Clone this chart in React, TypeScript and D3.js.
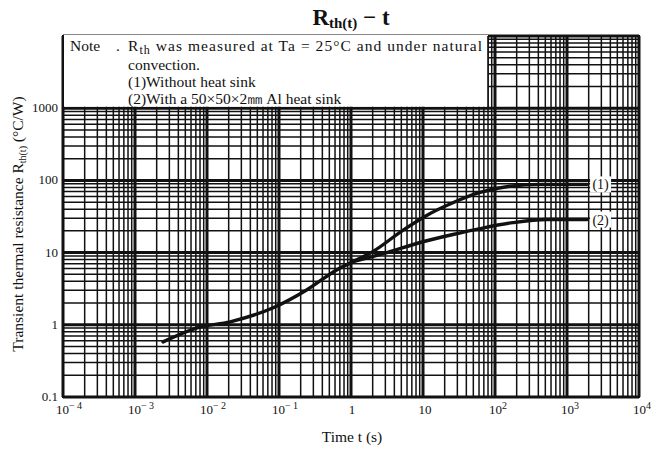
import React from "react";
import * as d3 from "d3";

// readings (t in s, R in °C/W)
const T_COMMON = [0.00245, 0.0073, 0.021, 0.083, 0.245, 0.64, 1.07];
const R_COMMON = [0.58, 0.91, 1.1, 1.72, 3.06, 5.8, 7.5];
const T_CURVE1 = [2.0, 5.3, 11.4, 26, 62, 160, 420, 1900];
const R_CURVE1 = [10.3, 20.5, 33, 49, 68, 83, 88, 88];
const T_CURVE2 = [3.16, 9.1, 26, 62, 178, 525, 1900];
const R_CURVE2 = [10, 13.8, 17.8, 21.5, 26, 28.7, 28.7];

const X_EXPONENTS = [-4, -3, -2, -1, 0, 1, 2, 3, 4];
const Y_TICKS = [0.1, 1, 10, 100, 1000];
const Y_TICK_LABELS = ["0.1", "1", "10", "100", "1000"];

const NOTE_LINES = [
  "convection.",
  "(1)Without heat sink",
  "(2)With a 50×50×2㎜ Al heat sink",
];

const W = 651;
const H = 461;
const margin = { top: 36, right: 12, bottom: 64, left: 63 };

const isMajor = (v: number) =>
  Math.abs(Math.log10(v) - Math.round(Math.log10(v))) < 1e-6;

export default function App() {
  const x = d3
    .scaleLog()
    .domain([1e-4, 1e4])
    .range([margin.left, W - margin.right]);
  const y = d3
    .scaleLog()
    .domain([0.1, 1e4])
    .range([H - margin.bottom, margin.top]);

  const common = T_COMMON.map((t, i) => [t, R_COMMON[i]] as [number, number]);
  const last = common[common.length - 1];
  const c1 = [...common, ...T_CURVE1.map((t, i) => [t, R_CURVE1[i]] as [number, number])];
  const c2 = [last, ...T_CURVE2.map((t, i) => [t, R_CURVE2[i]] as [number, number])];

  const line = d3
    .line<[number, number]>()
    .x((d) => x(d[0]))
    .y((d) => y(d[1]))
    .curve(d3.curveMonotoneX);

  const x0 = margin.left;
  const x1 = W - margin.right;
  const y0 = margin.top;
  const y1 = H - margin.bottom;

  const serif = "'Liberation Serif', 'DejaVu Serif', serif";
  const noteRight = 488;
  const noteBottom = y(1000) - 1.5;

  const end1 = c1[c1.length - 1];
  const end2 = T_CURVE2.length - 1;

  return (
    <svg
      width={W}
      height={H}
      style={{ position: "absolute", left: 0, top: 0, background: "#fff" }}
      fontFamily={serif}
    >
      {/* grid */}
      <g stroke="#111">
        {x.ticks().map((v, i) => (
          <line
            key={"gx" + i}
            x1={x(v)}
            x2={x(v)}
            y1={y0}
            y2={y1}
            strokeWidth={isMajor(v) ? 3 : 1.5}
          />
        ))}
        {y.ticks().map((v, i) => (
          <line
            key={"gy" + i}
            x1={x0}
            x2={x1}
            y1={y(v)}
            y2={y(v)}
            strokeWidth={isMajor(v) ? 3 : 1.5}
          />
        ))}
      </g>
      <rect x={x0} y={y0} width={x1 - x0} height={y1 - y0} fill="none" stroke="#111" strokeWidth={2} />

      {/* note box */}
      <rect x={x0 + 1} y={y0 - 1} width={noteRight - x0 - 1} height={noteBottom - y0 + 1} fill="#fff" />
      <line x1={noteRight} x2={noteRight} y1={y0} y2={noteBottom + 1} stroke="#111" strokeWidth={1.6} />
      <g fontSize={15.5} fill="#111">
        <text x={70} y={51}>Note</text>
        <text x={116} y={51}>.</text>
        <text x={128} y={51} textLength={354} lengthAdjust="spacing">
          R<tspan fontSize={12} dy={3}>th</tspan>
          <tspan dy={-3}> was measured at Ta = 25°C  and under natural</tspan>
        </text>
        {NOTE_LINES.map((s, i) => (
          <text key={s} x={128} y={70 + i * 17}>
            {s}
          </text>
        ))}
      </g>

      {/* curves */}
      <path d={line(c1) ?? ""} fill="none" stroke="#111" strokeWidth={3.4} strokeLinecap="round" />
      <path d={line(c2) ?? ""} fill="none" stroke="#111" strokeWidth={3.4} strokeLinecap="round" />

      {/* curve labels */}
      {[
        { k: "(1)", r: end1[1] },
        { k: "(2)", r: R_CURVE2[end2] },
      ].map((d) => (
        <g key={d.k}>
          <rect x={x(1900) + 3} y={y(d.r) - 8} width={21} height={16} fill="#fff" />
          <text x={x(1900) + 13.5} y={y(d.r) + 5} fontSize={14} textAnchor="middle" fill="#111">
            {d.k}
          </text>
        </g>
      ))}

      {/* y tick labels */}
      <g fontSize={13} fill="#111" textAnchor="end">
        {Y_TICKS.map((v, i) => (
          <text key={v} x={x0 - 5} y={y(v) + 4}>
            {Y_TICK_LABELS[i]}
          </text>
        ))}
      </g>

      {/* x tick labels */}
      <g fontSize={13} fill="#111" textAnchor="middle">
        {X_EXPONENTS.map((e) => {
          const px = x(Math.pow(10, e));
          if (e === 0) return <text key={e} x={px + 1} y={414}>1</text>;
          if (e === 1) return <text key={e} x={px + 2} y={414}>10</text>;
          return (
            <text key={e} x={px + (e < 0 ? 6 : 3)} y={414}>
              10<tspan fontSize={10} dy={-5}>{e < 0 ? "− " + -e : e}</tspan>
            </text>
          );
        })}
      </g>

      {/* axis titles */}
      <text x={352} y={442} fontSize={15.5} textAnchor="middle" fill="#111">
        Time t (s)
      </text>
      <text
        transform="translate(23,224) rotate(-90)"
        fontSize={15.5}
        textAnchor="middle"
        fill="#111"
      >
        Transient thermal resistance R<tspan fontSize={10} dy={3}>th(t)</tspan>
        <tspan dy={-3}> (°C/W)</tspan>
      </text>

      {/* title */}
      <text x={351} y={25} textAnchor="middle" fontWeight="bold" fontSize={23} fill="#111">
        R<tspan fontSize={15} dy={3}>th(t)</tspan>
        <tspan dy={-3}> − t</tspan>
      </text>
    </svg>
  );
}
